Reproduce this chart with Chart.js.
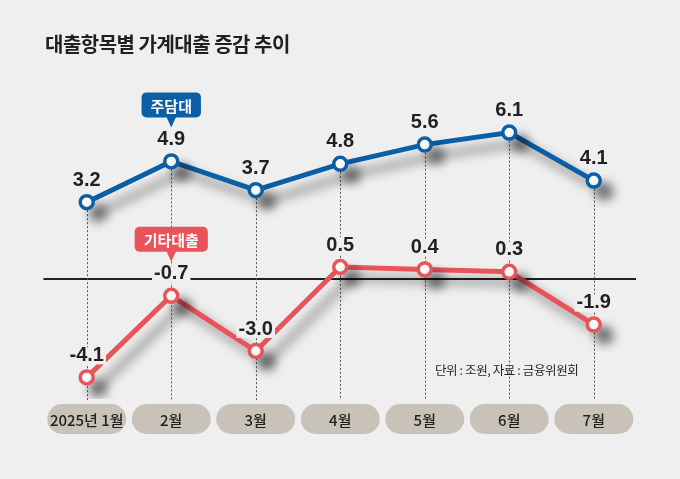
<!DOCTYPE html>
<html>
<head>
<meta charset="utf-8">
<script src="https://cdn.jsdelivr.net/npm/chart.js@4"></script>
<style>
  body { margin: 0; background: #efefef; }
  #wrap { position: relative; width: 680px; height: 479px; overflow: hidden; }
  #chart { position: absolute; left: 0; top: 0; }
  .title { position: absolute; left: 45px; top: 29px; font: 700 20px "Noto Sans CJK KR", sans-serif; color: #231f20; letter-spacing: -0.5px; }
  .note { position: absolute; left: 435px; top: 360px; font: 400 12.5px "Noto Sans CJK KR", sans-serif; color: #231f20; letter-spacing: -0.4px; }
</style>
</head>
<body>
<div id="wrap">
  <canvas id="chart" width="680" height="479"></canvas>
  <div class="title">대출항목별 가계대출 증감 추이</div>
  <div class="note">단위 : 조원, 자료 : 금융위원회</div>
</div>
<script>
const months = ["2025년 1월", "2월", "3월", "4월", "5월", "6월", "7월"];
const mortgage = [3.2, 4.9, 3.7, 4.8, 5.6, 6.1, 4.1];
const otherLoans = [-4.1, -0.7, -3.0, 0.5, 0.4, 0.3, -1.9];
const seriesNames = ["주담대", "기타대출"];

const BLUE = "#0b5fa5";
const RED = "#e9545b";
const BG = "#efefef";
const LABEL_FONT = "700 20px 'Liberation Sans', sans-serif";

function roundRect (ctx, x, y, w, h, r) {
    ctx.beginPath();
    ctx.moveTo(x + r, y);
    ctx.arcTo(x + w, y, x + w, y + h, r);
    ctx.arcTo(x + w, y + h, x, y + h, r);
    ctx.arcTo(x, y + h, x, y, r);
    ctx.arcTo(x, y, x + w, y, r);
    ctx.closePath();
}

// grille : ligne zéro + pointillés verticaux
const guides = {
    id: "guides",
    beforeDatasetsDraw (chart) {
        const { ctx, chartArea, scales } = chart;
        const y0 = scales.y.getPixelForValue(0);
        ctx.save();
        ctx.strokeStyle = "#231f20";
        ctx.lineWidth = 2;
        ctx.beginPath();
        ctx.moveTo(chartArea.left - 1, y0);
        ctx.lineTo(chartArea.right, y0);
        ctx.stroke();

        ctx.strokeStyle = "#555";
        ctx.lineWidth = 1;
        ctx.setLineDash([2, 2]);
        for (let i = 0; i < months.length; i++) {
            const x = Math.round(scales.x.getPixelForValue(i)) + 0.5;
            const top = scales.y.getPixelForValue(Math.max(mortgage[i], otherLoans[i]));
            ctx.beginPath();
            ctx.moveTo(x, top);
            ctx.lineTo(x, chartArea.bottom + 1);
            ctx.stroke();
        }
        ctx.restore();
    }
};

// ombre portée sous les courbes
const shadow = {
    id: "shadow",
    beforeDatasetDraw (chart) {
        const ctx = chart.ctx;
        ctx.save();
        ctx.shadowColor = "rgba(0,0,0,0.5)";
        ctx.shadowBlur = 11;
        ctx.shadowOffsetX = 11;
        ctx.shadowOffsetY = 11;
    },
    afterDatasetDraw (chart) {
        chart.ctx.restore();
    }
};

// étiquettes de valeurs, bulles et mois
const decorations = {
    id: "decorations",
    afterDatasetsDraw (chart) {
        const { ctx, chartArea, scales } = chart;
        ctx.save();
        ctx.textAlign = "center";
        ctx.textBaseline = "middle";
        chart.data.datasets.forEach((ds, d) => {
            const meta = chart.getDatasetMeta(d);
            ctx.font = LABEL_FONT;
            meta.data.forEach((pt, i) => {
                const v = ds.data[i];
                const txt = v.toFixed(1);
                const ly = pt.y - 22;
                const w = ctx.measureText(txt).width + 4;
                ctx.fillStyle = BG;
                ctx.fillRect(pt.x - w / 2, ly - 8, w, 17);
                ctx.fillStyle = "#231f20";
                ctx.fillText(txt, pt.x, ly);
            });

            // bulle de légende au-dessus du 2e point
            const p = meta.data[1];
            const tip = p.y - 34;
            ctx.font = "700 15px 'Noto Sans CJK KR', sans-serif";
            const bw = ctx.measureText(seriesNames[d]).width + 18;
            const bh = 25;
            const by = tip - 10 - bh;
            ctx.fillStyle = ds.borderColor;
            roundRect(ctx, p.x - bw / 2, by, bw, bh, 5);
            ctx.fill();
            ctx.beginPath();
            ctx.moveTo(p.x - 5, by + bh - 1);
            ctx.lineTo(p.x + 5, by + bh - 1);
            ctx.lineTo(p.x, tip);
            ctx.closePath();
            ctx.fill();
            ctx.fillStyle = "#fff";
            ctx.fillText(seriesNames[d], p.x, by + bh / 2 + 1);
        });

        // pastilles des mois
        ctx.font = "500 15px 'Noto Sans CJK KR', sans-serif";
        for (let i = 0; i < months.length; i++) {
            const x = scales.x.getPixelForValue(i);
            const pw = 79, ph = 30;
            const py = chartArea.bottom + 5;
            ctx.fillStyle = "#c9c2b9";
            roundRect(ctx, x - pw / 2, py, pw, ph, 15);
            ctx.fill();
            ctx.fillStyle = "#231f20";
            ctx.fillText(months[i], x, py + ph / 2 + 1);
        }
        ctx.restore();
    }
};

new Chart(document.getElementById("chart"), {
    type: "line",
    data: {
        labels: months,
        datasets: [
            {
                label: seriesNames[0],
                data: mortgage,
                borderColor: BLUE,
                backgroundColor: "#fff",
                pointBackgroundColor: "#fff",
                pointBorderColor: BLUE,
                borderWidth: 5,
                pointRadius: 6.5,
                pointBorderWidth: 3.5,
                tension: 0
            },
            {
                label: seriesNames[1],
                data: otherLoans,
                borderColor: RED,
                backgroundColor: "#fff",
                pointBackgroundColor: "#fff",
                pointBorderColor: RED,
                borderWidth: 5,
                pointRadius: 6.5,
                pointBorderWidth: 3.5,
                tension: 0
            }
        ]
    },
    options: {
        responsive: false,
        animation: false,
        layout: { padding: { left: 44.5, right: 44, top: 87, bottom: 80 } },
        scales: {
            x: { type: "category", offset: true, display: false },
            y: { min: -5, max: 8, display: false }
        },
        plugins: {
            legend: { display: false },
            tooltip: { enabled: false }
        }
    },
    plugins: [guides, shadow, decorations]
});
</script>
</body>
</html>
